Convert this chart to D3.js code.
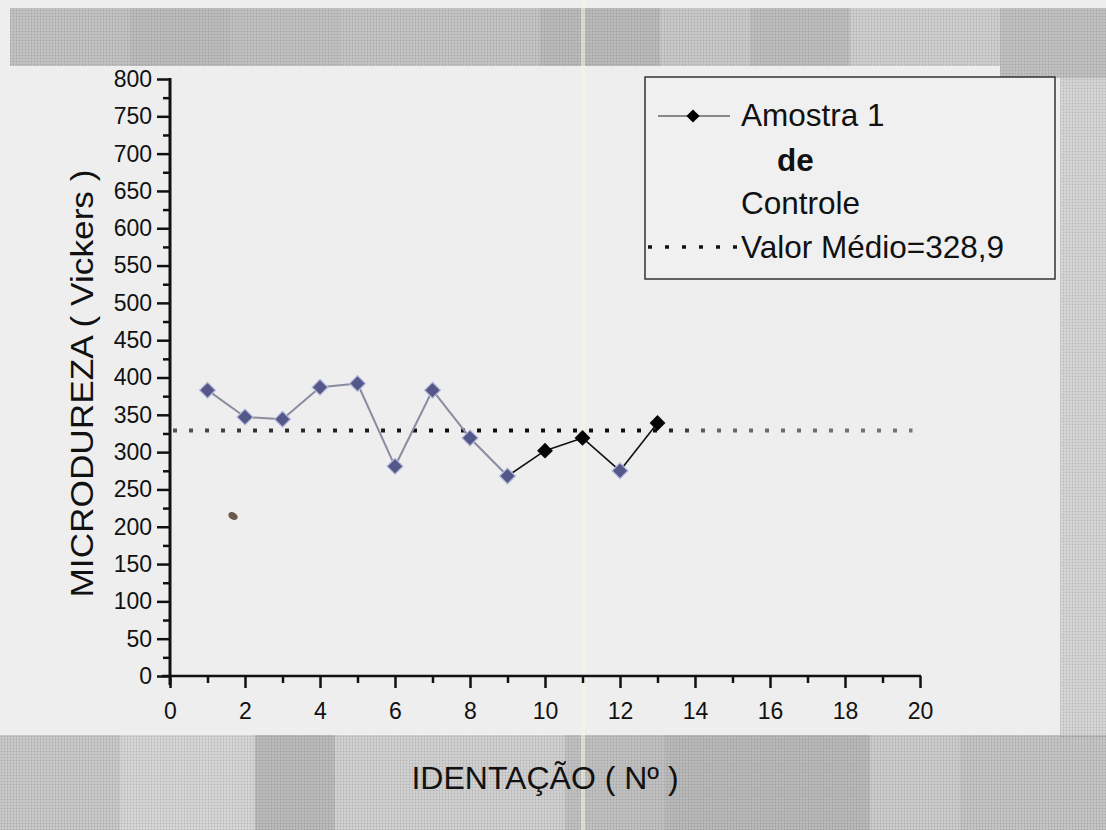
<!DOCTYPE html>
<html>
<head>
<meta charset="utf-8">
<script src="https://cdn.jsdelivr.net/npm/d3@7"></script>
<style>
  body { margin: 0; background: #eeeeee; }
  svg { display: block; font-family: "Liberation Sans", Arial, sans-serif; }
</style>
</head>
<body>
<script>
// data
const indentacao = [1, 2, 3, 4, 5, 6, 7, 8, 9, 10, 11, 12, 13]
const microdureza = [383, 347, 344, 387, 392, 281, 383, 319, 268, 302, 319, 275, 339]
const valorMedio = 328.9
const mediaRange = [0, 19.8]
const xTicks = [0, 2, 4, 6, 8, 10, 12, 14, 16, 18, 20]
const yTicks = d3.range(0, 801, 50)
const legendLabels = ['Amostra 1', 'de', 'Controle', 'Valor Médio=328,9']

{
    let width = 1106
    let height = 830
    let svg = d3.select('body').append('svg')
        .attr('width', width)
        .attr('height', height)

    // scanned paper background (grey halftone blocks)
    let defs = svg.append('defs')
    let pat = defs.append('pattern')
        .attr('id', 'dots')
        .attr('width', 3).attr('height', 3)
        .attr('patternUnits', 'userSpaceOnUse')
    pat.append('rect').attr('width', 3).attr('height', 3).attr('fill', 'none')
    pat.append('circle').attr('cx', 1.5).attr('cy', 1.5).attr('r', 0.9).attr('fill', '#000').attr('opacity', 0.14)

    let grad = defs.append('linearGradient')
        .attr('id', 'meanGrad')
        .attr('gradientUnits', 'userSpaceOnUse')
        .attr('x1', 170).attr('x2', 920).attr('y1', 0).attr('y2', 0)
    ;[[0, '#555'], [0.12, '#333'], [0.35, '#111'], [0.65, '#111'], [0.72, '#666'], [1, '#777']]
        .forEach(s => grad.append('stop').attr('offset', s[0]).attr('stop-color', s[1]))

    svg.append('rect').attr('width', width).attr('height', height).attr('fill', '#eeeeee')

    let blocks = [
        [10, 8, 120, 58, '#c4c4c4'], [130, 8, 100, 58, '#bebebe'], [230, 8, 110, 58, '#c2c2c2'],
        [340, 8, 200, 58, '#c6c6c6'], [540, 8, 120, 58, '#bcbcbc'], [660, 8, 90, 58, '#cbcbcb'],
        [750, 8, 100, 58, '#c0c0c0'], [850, 8, 150, 58, '#d0d0d0'], [1000, 8, 106, 70, '#c2c2c2'],
        [1060, 78, 46, 660, '#d8d8d8'],
        [0, 735, 120, 95, '#cacaca'], [120, 735, 135, 95, '#d8d8d8'], [255, 735, 80, 95, '#bcbcbc'],
        [335, 735, 230, 95, '#d2d2d2'], [565, 735, 100, 95, '#c2c2c2'], [665, 735, 205, 95, '#bbbbbb'],
        [870, 735, 90, 95, '#cdcdcd'], [960, 735, 146, 95, '#c6c6c6']
    ]
    svg.append('g').selectAll('rect').data(blocks)
        .enter()
        .append('rect')
        .attr('x', d => d[0]).attr('y', d => d[1])
        .attr('width', d => d[2]).attr('height', d => d[3])
        .attr('fill', d => d[4])
    svg.append('g').selectAll('rect').data(blocks)
        .enter()
        .append('rect')
        .attr('x', d => d[0]).attr('y', d => d[1])
        .attr('width', d => d[2]).attr('height', d => d[3])
        .attr('fill', 'url(#dots)')
    // pale vertical streak from the scanner
    svg.append('rect')
        .attr('x', 581).attr('y', 0).attr('width', 4).attr('height', height)
        .attr('fill', '#f7f5e2').attr('opacity', 0.55)

    let x = d3.scaleLinear().domain([0, 20]).range([170, 920])
    let y = d3.scaleLinear().domain([0, 800]).range([676, 79])

    // y axis
    let gy = svg.append('g').attr('transform', `translate(${x(0)},0)`)
    gy.call(d3.axisLeft(y).tickValues(yTicks).tickSize(13).tickPadding(5))
    gy.append('g').call(d3.axisLeft(y).tickValues(d3.range(25, 800, 50)).tickSize(7).tickFormat(''))
    gy.selectAll('.domain').remove()
    gy.append('line').attr('y1', y(800) - 1).attr('y2', y(0) + 9).attr('stroke', '#111').attr('stroke-width', 3)

    // x axis
    let gx = svg.append('g').attr('transform', `translate(0,${y(0)})`)
    gx.call(d3.axisBottom(x).tickValues(xTicks).tickSize(12).tickPadding(15))
    gx.append('g').call(d3.axisBottom(x).tickValues(d3.range(1, 20, 2)).tickSize(7).tickFormat(''))
    gx.selectAll('.domain').remove()
    gx.append('line').attr('x1', x(0) - 8).attr('x2', x(20) + 1).attr('stroke', '#111').attr('stroke-width', 2.5)

    svg.selectAll('.tick line').attr('stroke', '#111').attr('stroke-width', 2.5)
    svg.selectAll('.tick text').attr('fill', '#111').attr('font-size', 23)
        .attr('font-family', '"Liberation Sans", Arial, sans-serif')

    // axis titles
    svg.append('text')
        .attr('transform', `translate(93,${(y(0) + y(800)) / 2 + 6}) rotate(-90)`)
        .attr('text-anchor', 'middle')
        .attr('font-size', 32)
        .attr('textLength', 428)
        .attr('lengthAdjust', 'spacingAndGlyphs')
        .attr('fill', '#111')
        .text('MICRODUREZA ( Vickers )')
    svg.append('text')
        .attr('x', (x(0) + x(20)) / 2)
        .attr('y', 789)
        .attr('text-anchor', 'middle')
        .attr('font-size', 32)
        .attr('fill', '#111')
        .text('IDENTAÇÃO ( Nº )')

    // mean value line
    svg.append('line')
        .attr('x1', x(mediaRange[0]) + 3).attr('x2', x(mediaRange[1]))
        .attr('y1', y(valorMedio)).attr('y2', y(valorMedio))
        .attr('stroke', 'url(#meanGrad)')
        .attr('stroke-width', 4)
        .attr('stroke-dasharray', '4,12')

    // series
    let pts = indentacao.map((v, i) => ({x: v, y: microdureza[i]}))
    let faded = i => i < 9 || i === 11
    let line = d3.line().x(d => x(d.x)).y(d => y(d.y))
    let segs = d3.pairs(pts)
    svg.append('g').selectAll('path').data(segs)
        .enter()
        .append('path')
        .attr('d', d => line(d))
        .attr('stroke', (d, i) => i < 8 ? '#8a8ca0' : '#111')
        .attr('stroke-width', (d, i) => i < 8 ? 2 : 1.6)
        .attr('fill', 'none')
    let diamond = d3.symbol().type(d3.symbolDiamond2).size(160)
    svg.append('g').selectAll('path').data(pts)
        .enter()
        .append('path')
        .attr('transform', d => `translate(${x(d.x)},${y(d.y)})`)
        .attr('d', diamond)
        .attr('fill', (d, i) => faded(i) ? '#545889' : '#050505')
        .attr('stroke', (d, i) => faded(i) ? '#b4b8dc' : 'none')
        .attr('stroke-width', 1.2)

    // stray speck on the scan
    svg.append('ellipse').attr('cx', 233).attr('cy', 516).attr('rx', 5).attr('ry', 3.5)
        .attr('transform', 'rotate(30,233,516)').attr('fill', '#6b5a4c')

    // legend
    let lg = svg.append('g')
    lg.append('rect')
        .attr('x', 645).attr('y', 77).attr('width', 410).attr('height', 202)
        .attr('fill', '#f0f0f0').attr('stroke', '#333').attr('stroke-width', 1.5)
    lg.append('line').attr('x1', 658).attr('x2', 730).attr('y1', 116).attr('y2', 116)
        .attr('stroke', '#222').attr('stroke-width', 1)
    lg.append('path').attr('transform', 'translate(693,116)')
        .attr('d', d3.symbol().type(d3.symbolDiamond2).size(110)).attr('fill', '#000')
    lg.append('line').attr('x1', 648).attr('x2', 737).attr('y1', 247).attr('y2', 247)
        .attr('stroke', '#111').attr('stroke-width', 3.5).attr('stroke-dasharray', '4,13')
    let lx = [741, 777, 741, 741]
    let ly = [126, 171, 214, 258]
    lg.selectAll('text').data(legendLabels)
        .enter()
        .append('text')
        .attr('x', (d, i) => lx[i])
        .attr('y', (d, i) => ly[i])
        .attr('font-size', 31.5)
        .attr('font-weight', (d, i) => i === 1 ? 'bold' : 'normal')
        .attr('fill', '#111')
        .text(d => d)
}
</script>
</body>
</html>
